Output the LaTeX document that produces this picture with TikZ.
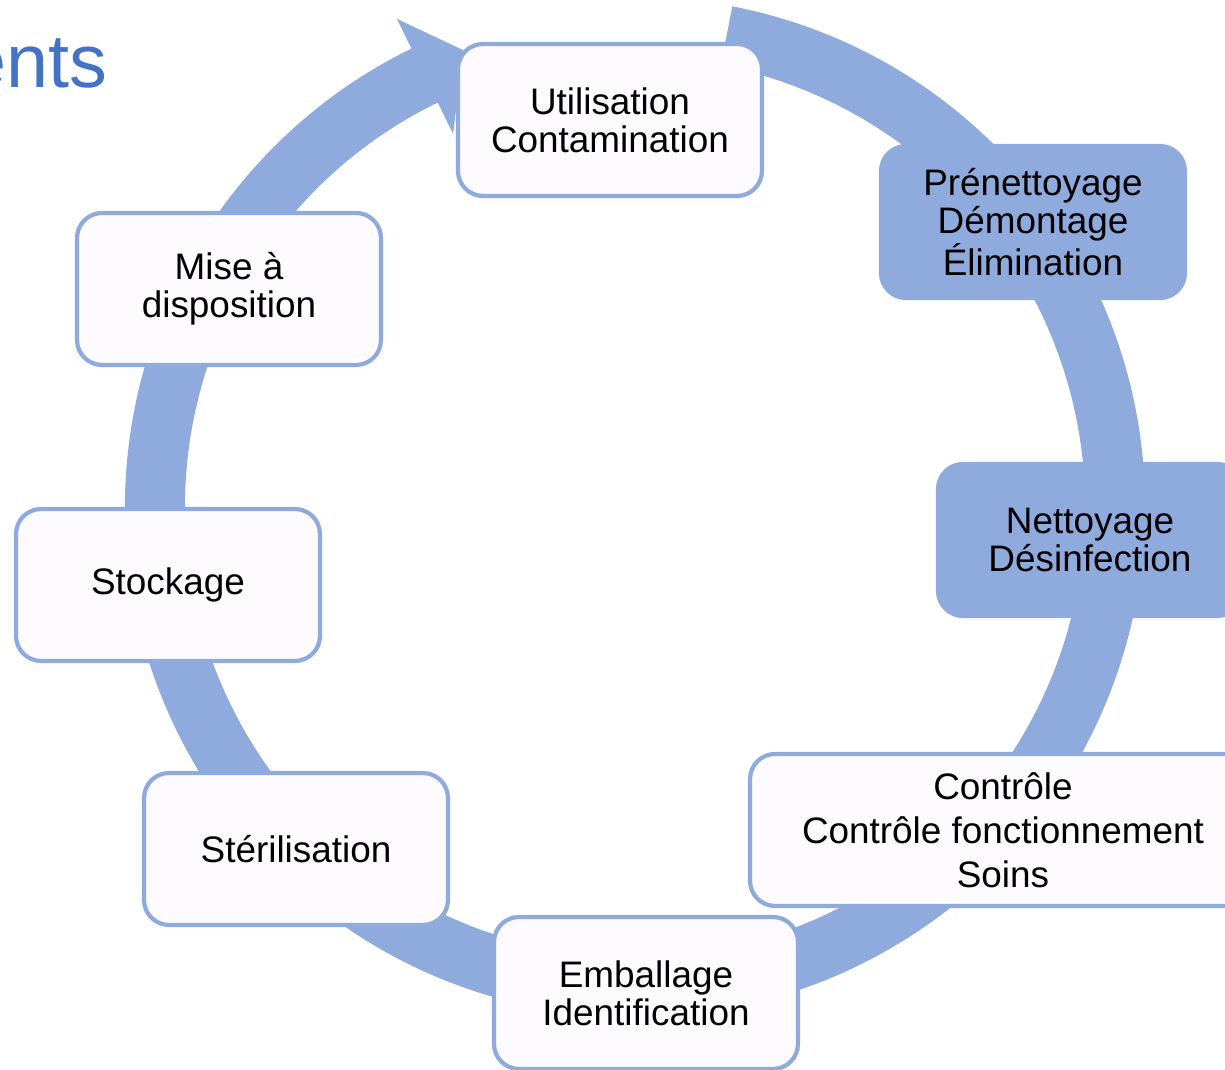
\documentclass[tikz,border=0pt]{standalone}
\usepackage{fontspec}
\setmainfont{Liberation Sans}
\definecolor{ringblue}{HTML}{8FAADC}
\definecolor{titleblue}{HTML}{4472C4}
\definecolor{boxfill}{HTML}{FEFBFE}
\tikzset{
	stage/.style={shape=rectangle, rounded corners=0.5cm, draw=ringblue, line width=2.4pt, fill=boxfill, align=center, minimum width=6.08cm, minimum height=3.04cm, inner sep=0pt, font=\fontsize{21}{21.6}\selectfont},
	stagefull/.style={stage, fill=ringblue},
}
\begin{document}
\begin{tikzpicture}[x=0.02cm, y=0.02cm]
	\clip (0,0) rectangle (1225,1070);
	\fill[ringblue, shift={(635,563)}] (79:510) arc[start angle=79, end angle=-244, radius=510] -- (-244:543) -- (-249.4:488) -- (-244:415) -- (-244:450) arc[start angle=-244, end angle=79, radius=450] -- cycle;

	\node[text=titleblue, anchor=base east, inner sep=0pt, font=\fontsize{43}{43}\selectfont] (title) at (108,982) {ents};

	\node[stage]		(util)		at (610,950)	{Utilisation\\Contamination};
	\node[stagefull]	(prenet)	at (1033,848)	{Prénettoyage\\Démontage\\Élimination};
	\node[stagefull]	(nettoy)	at (1090,530)	{Nettoyage\\Désinfection};
	\node[stage, minimum width=10.12cm, font=\fontsize{21}{25}\selectfont]
						(controle)	at (1003,240)	{Contrôle\\Contrôle fonctionnement\\Soins};
	\node[stage]		(emball)	at (646,77)		{Emballage\\Identification};
	\node[stage]		(steril)	at (296,221)	{Stérilisation};
	\node[stage]		(stock)		at (168,485)	{Stockage};
	\node[stage]		(mise)		at (229,781)	{Mise à\\disposition};
\end{tikzpicture}
\end{document}
